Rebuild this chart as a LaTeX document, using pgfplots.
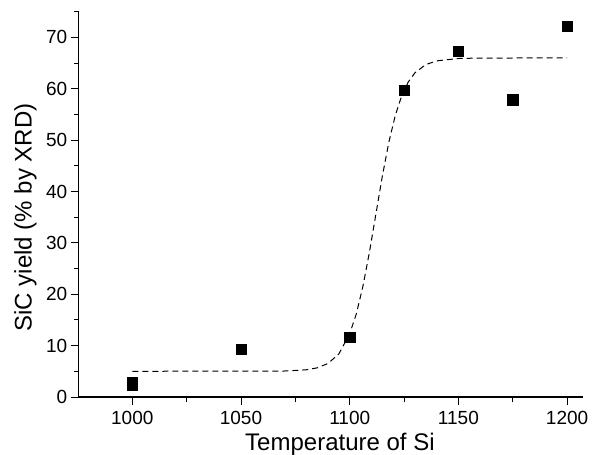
\documentclass[border=0pt]{standalone}
\usepackage{fontspec}
\setmainfont{Liberation Sans}
\usepackage{pgfplots}
\pgfplotsset{compat=1.18}

\begin{document}
\begin{tikzpicture}
  \begin{axis}[
      name=ax,
      scale only axis,
      width=504.3bp, height=385.3bp,
      xmin=975.35, xmax=1207.3,
      ymin=0, ymax=75,
      axis lines*=left,
      axis line style={-, line width=1.2bp},
      xtick={1000,1050,1100,1150,1200},
      minor xtick={1025,1075,1125,1175},
      ytick={0,10,20,30,40,50,60,70},
      minor ytick={5,15,25,35,45,55,65,75},
      tick align=outside,
      major tick length=8bp,
      minor tick length=5bp,
      tick style={black, line width=1bp},
      /pgf/number format/assume math mode=true,
      /pgf/number format/set thousands separator={},
      ticklabel style={font=\fontsize{19bp}{19bp}\selectfont},
      xticklabel style={yshift=-3bp},
      xlabel={Temperature of Si},
      ylabel={SiC yield (\% by XRD)},
      every axis x label/.style={at={(ticklabel cs:0.518)}, anchor=north,
        inner sep=3bp, yshift=-2bp, font=\fontsize{24bp}{24bp}\selectfont},
      every axis y label/.style={at={(ticklabel cs:0.466)}, rotate=90, anchor=south,
        inner sep=6bp, font=\fontsize{24bp}{24bp}\selectfont},
    ]
    % Boltzmann fit (dashed)
    \addplot[black, line width=1bp, dash pattern=on 6bp off 4bp] coordinates {
      (1000,5.00) (1070,5.06) (1080,5.29) (1085,5.67) (1090,6.52)
      (1095,8.39) (1100,12.3) (1103,16.13) (1106,21.41) (1109,28.03)
      (1112,35.5) (1115,42.97) (1118,49.59) (1121,54.87) (1124,58.73)
      (1127,61.37) (1130,63.11) (1135,64.71) (1140,65.43) (1150,65.89)
      (1160,65.98) (1200,66.0)
    };
    % measured points
    \addplot[only marks, mark=square*, mark size=5.2bp, black] coordinates {
      (1000,2.26) (1000,2.86) (1050,9.3) (1100,11.6) (1125,59.7)
      (1150,67.3) (1175,57.9) (1200,72.2)
    };
  \end{axis}
  \pgfresetboundingbox
  \path ([xshift=-78.7bp,yshift=-58bp]ax.south west) rectangle ([xshift=9bp,yshift=11.7bp]ax.north east);
\end{tikzpicture}
\end{document}
